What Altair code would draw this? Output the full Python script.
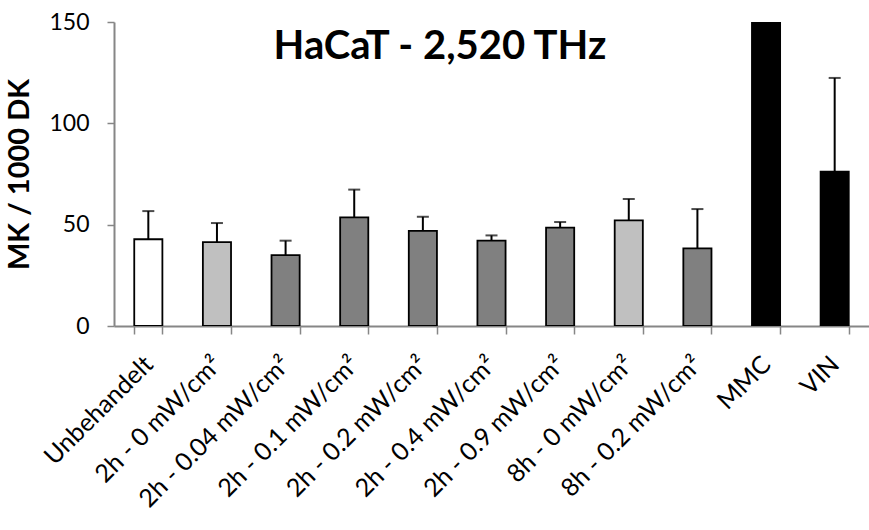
import altair as alt
import pandas as pd

# Micronucleus counts per 1000 binucleated HaCaT cells, 2,520 THz exposure series
categories = [
    "Unbehandelt",
    "2h - 0 mW/cm²",
    "2h - 0.04 mW/cm²",
    "2h - 0.1 mW/cm²",
    "2h - 0.2 mW/cm²",
    "2h - 0.4 mW/cm²",
    "2h - 0.9 mW/cm²",
    "8h - 0 mW/cm²",
    "8h - 0.2 mW/cm²",
    "MMC",
    "VIN",
]
means = [42.8, 41.4, 35.0, 53.6, 46.9, 42.1, 48.5, 52.1, 38.3, 150.0, 76.1]
upper = [56.7, 50.8, 42.1, 67.3, 53.9, 44.7, 51.3, 62.7, 57.7, None, 122.4]
groups = ["control", "sham", "exposed", "exposed", "exposed", "exposed",
          "exposed", "sham", "exposed", "positive", "positive"]

group_names = ["control", "sham", "exposed", "positive"]
group_colors = ["#ffffff", "#c0c0c0", "#808080", "#000000"]

df = pd.DataFrame({"cat": categories, "mean": means, "upper": upper, "group": groups})
err = df.dropna(subset=["upper"])

FONT = "Lato"

x_enc = alt.X(
    "cat:N",
    sort=categories,
    scale=alt.Scale(paddingInner=0.59, paddingOuter=0.295),
    axis=alt.Axis(
        title=None,
        labelAngle=-45,
        labelAlign="right",
        labelBaseline="middle",
        labelFontSize=25,
        labelFont=FONT,
        labelColor="#000000",
        labelPadding=26,
        tickBand="extent",
        tickColor="#868686",
        tickSize=8,
        tickWidth=1.5,
        domainColor="#868686",
        domainWidth=2,
        labelLimit=400,
    ),
)
y_scale = alt.Scale(domain=[0, 150], clamp=True, nice=False)
y_axis = alt.Axis(
    title="MK / 1000 DK",
    titleFont=FONT,
    titleFontSize=29,
    titleFontWeight="bold",
    titleColor="#000000",
    titlePadding=14,
    values=[0, 50, 100, 150],
    labelFontSize=23,
    labelFont=FONT,
    labelColor="#000000",
    labelPadding=18,
    tickColor="#868686",
    tickSize=7,
    tickWidth=1.5,
    domainColor="#868686",
    domainWidth=2,
    grid=False,
)

base = alt.Chart(df)

bars = base.mark_bar(stroke="#000000", strokeWidth=1.8, clip=True).encode(
    x=x_enc,
    y=alt.Y("mean:Q", scale=y_scale, axis=y_axis),
    fill=alt.Fill("group:N", scale=alt.Scale(domain=group_names, range=group_colors), legend=None),
)

stems = alt.Chart(err).mark_rule(color="#000000", strokeWidth=2).encode(
    x=alt.X("cat:N", sort=categories),
    y="mean:Q",
    y2="upper:Q",
)

caps = alt.Chart(err).mark_tick(color="#000000", thickness=2, size=12).encode(
    x=alt.X("cat:N", sort=categories),
    y="upper:Q",
)

title = alt.Chart(pd.DataFrame({"t": ["HaCaT - 2,520 THz"]})).mark_text(
    font=FONT, fontSize=40, fontWeight="bold", color="#000000",
    align="center", baseline="alphabetic",
).encode(text="t:N", x=alt.value(326), y=alt.value(37))

chart = (
    alt.layer(bars, stems, caps, title)
    .properties(
        width=755,
        height=304,
        autosize=alt.AutoSizeParams(type="none"),
        padding={"left": 114, "top": 22, "right": 0, "bottom": 204},
        background="#ffffff",
    )
    .configure_view(stroke=None)
)

chart.save("out.html", embed_options={"renderer": "svg", "actions": False})
